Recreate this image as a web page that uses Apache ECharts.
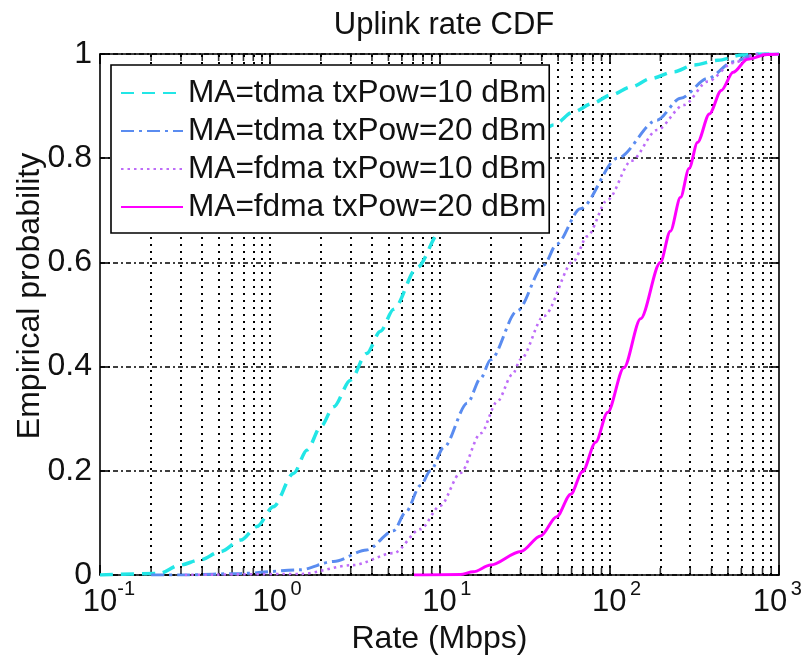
<!DOCTYPE html>
<html>
<head>
<meta charset="utf-8">
<script src="https://cdn.jsdelivr.net/npm/echarts@6/dist/echarts.min.js"></script>
<style>
html,body{margin:0;padding:0;background:#fff;}
#chart{width:802px;height:657px;}
</style>
</head>
<body>
<div id="chart"></div>
<script>
// ---------- data ----------
const titleText = 'Uplink rate CDF';
const xAxisName = 'Rate (Mbps)';
const yAxisName = 'Empirical probability';

const seriesNames = [
  'MA=tdma txPow=10 dBm',
  'MA=tdma txPow=20 dBm',
  'MA=fdma txPow=10 dBm',
  'MA=fdma txPow=20 dBm'
];

// MA=tdma txPow=10 dBm
const tdma10Rate = [0.1, 0.224, 0.295, 0.389, 0.513, 0.676, 0.841, 1.05, 1.38, 1.66, 2.0, 2.38, 2.99, 3.72, 4.49, 5.37, 7.38, 10.1, 12.6, 17.8, 25.1, 35.5, 47.2, 61.7, 79.4, 102, 135, 176, 240, 316, 437, 603, 759, 1000];
const tdma10Prob = [0, 0.003, 0.019, 0.029, 0.045, 0.067, 0.093, 0.131, 0.195, 0.24, 0.285, 0.323, 0.374, 0.425, 0.468, 0.51, 0.59, 0.659, 0.70, 0.755, 0.80, 0.837, 0.864, 0.889, 0.905, 0.921, 0.937, 0.953, 0.966, 0.979, 0.988, 0.998, 1.0, 1.0];

// MA=tdma txPow=20 dBm
const tdma20Rate = [0.2, 0.316, 0.676, 1.51, 2.38, 3.72, 5.37, 6.31, 7.73, 8.85, 10.6, 14.6, 17.5, 20, 28.7, 41.2, 49, 67.6, 112, 191, 263, 380, 537, 741, 1000];
const tdma20Prob = [0, 0.0, 0.003, 0.01, 0.026, 0.048, 0.085, 0.12, 0.172, 0.2, 0.245, 0.33, 0.378, 0.413, 0.507, 0.595, 0.635, 0.703, 0.8, 0.873, 0.915, 0.953, 0.985, 1.0, 1.0];

// MA=fdma txPow=10 dBm
const fdma10Rate = [0.316, 1.51, 3.09, 5.37, 7.73, 10.1, 13.3, 17.5, 21.9, 26.9, 30.1, 41.2, 61.7, 74.1, 97.7, 135, 191, 275, 380, 537, 741, 1000];
const fdma10Prob = [0, 0.002, 0.019, 0.042, 0.088, 0.133, 0.196, 0.272, 0.333, 0.385, 0.414, 0.497, 0.603, 0.65, 0.72, 0.795, 0.854, 0.902, 0.947, 0.983, 1.0, 1.0];

// MA=fdma txPow=20 dBm
const fdma20Rate = [7.08, 13.3, 15.8, 20, 30.1, 39.4, 49, 59.3, 69.5, 83.2, 97.7, 122, 153, 200, 229, 263, 295, 331, 389, 457, 537, 653, 851, 1000];
const fdma20Prob = [0, 0.001, 0.006, 0.019, 0.045, 0.075, 0.112, 0.155, 0.198, 0.255, 0.312, 0.398, 0.492, 0.6, 0.66, 0.725, 0.78, 0.83, 0.885, 0.93, 0.965, 0.99, 0.999, 1.0];

// axes
const xMin = 0.1, xMax = 1000;
const yMin = 0, yMax = 1, yStep = 0.2;
const xMinorTicks = [0.2,0.3,0.4,0.5,0.6,0.7,0.8,0.9,
                     2,3,4,5,6,7,8,9,
                     20,30,40,50,60,70,80,90,
                     200,300,400,500,600,700,800,900];
const xDecades = [1, 10, 100];

// ---------- styles ----------
const FONT = "'Liberation Sans', Arial, Helvetica, sans-serif";
const colors = ['#22E6E6', '#5A8CF0', '#BE6CF8', '#FF00FF'];
const lineTypes = [[13, 8], [13, 5, 3, 5], [2.5, 4], 'solid'];
const lineWidths = [3.5, 3, 2.6, 3];

const zip = (a, b) => a.map((v, i) => [v, b[i]]);
const rates = [tdma10Rate, tdma20Rate, fdma10Rate, fdma20Rate];
const probs = [tdma10Prob, tdma20Prob, fdma10Prob, fdma20Prob];

const chart = echarts.init(document.getElementById('chart'), null, {renderer: 'canvas'});

const dataSeries = seriesNames.map((name, i) => ({
  name: name,
  type: 'line',
  xAxisIndex: 0,
  yAxisIndex: 0,
  data: zip(rates[i], probs[i]),
  showSymbol: false,
  symbol: 'none',
  smooth: 0.3,
  smoothMonotone: 'x',
  z: 5,
  lineStyle: {color: colors[i], width: lineWidths[i], type: lineTypes[i], cap: 'butt'},
  itemStyle: {color: colors[i]},
  emphasis: {disabled: true},
  animation: false
}));

// helper: minor grid lines (markLine) + minor ticks at bottom & top
const gridHelper = {
  name: '_minorBottom',
  type: 'scatter',
  xAxisIndex: 0, yAxisIndex: 0,
  data: xMinorTicks.map(v => [v, yMin]),
  symbol: 'rect',
  symbolSize: [1.6, 7],
  symbolOffset: [0, -3.5],
  itemStyle: {color: '#000'},
  silent: true,
  z: 3,
  animation: false,
  markLine: {
    silent: true,
    symbol: 'none',
    label: {show: false},
    animation: false,
    lineStyle: {color: '#000', width: 2, type: [2, 5]},
    emphasis: {disabled: true},
    data: xMinorTicks.concat(xDecades).map(v => ({xAxis: v}))
  }
};
const topTicks = {
  name: '_minorTop',
  type: 'scatter',
  xAxisIndex: 0, yAxisIndex: 0,
  data: xMinorTicks.map(v => [v, yMax]),
  symbol: 'rect',
  symbolSize: [1.6, 7],
  symbolOffset: [0, 3.5],
  itemStyle: {color: '#000'},
  silent: true,
  z: 3,
  animation: false
};

const axisLineStyle = {color: '#000', width: 1.6};

const option = {
  backgroundColor: '#fff',
  animation: false,
  title: {
    text: titleText,
    left: 439, top: 5,
    textAlign: 'center',
    textStyle: {fontFamily: FONT, fontSize: 31, fontWeight: 'normal', color: '#111'}
  },
  grid: {left: 100, right: 23, top: 54, bottom: 82, containLabel: false, outerBoundsMode: 'none'},
  legend: {
    data: seriesNames,
    orient: 'vertical',
    left: 111, top: 65,
    itemWidth: 62, itemHeight: 20, itemGap: 6,
    padding: [12, 3, 10, 9],
    backgroundColor: '#fff',
    borderColor: '#000', borderWidth: 1.6, borderRadius: 0,
    itemStyle: {opacity: 0},
    textStyle: {fontFamily: FONT, fontSize: 31.6, color: '#111', lineHeight: 30},
    selectedMode: false,
    z: 10
  },
  xAxis: [{
    type: 'log', logBase: 10, min: xMin, max: xMax,
    position: 'bottom',
    axisLine: {show: true, onZero: false, lineStyle: axisLineStyle},
    axisTick: {show: true, inside: true, length: 10, lineStyle: axisLineStyle},
    splitLine: {show: false},
    axisLabel: {
      margin: -3,
      formatter: v => {
        const e = Math.round(Math.log10(v));
        return (v >= xMax ? '' : '{sp|}') + '{b|10}{s|' + e + '}';
      },
      rich: {
        b: {fontFamily: FONT, fontSize: 31, color: '#111', lineHeight: 46, verticalAlign: 'bottom'},
        s: {fontFamily: FONT, fontSize: 20, color: '#111', width: 18, verticalAlign: 'top', lineHeight: 20, padding: [7, 0, 0, 0]},
        sp: {width: 18}
      }
    },
    name: xAxisName, nameLocation: 'middle', nameGap: 48,
    nameTextStyle: {fontFamily: FONT, fontSize: 32, color: '#111'}
  }, {
    type: 'log', logBase: 10, min: xMin, max: xMax,
    position: 'top',
    axisLine: {show: true, onZero: false, lineStyle: axisLineStyle},
    axisTick: {show: true, inside: true, length: 10, lineStyle: axisLineStyle},
    axisLabel: {show: false},
    splitLine: {show: false}
  }],
  yAxis: [{
    type: 'value', min: yMin, max: yMax, interval: yStep,
    position: 'left',
    axisLine: {show: true, onZero: false, lineStyle: axisLineStyle},
    axisTick: {show: true, inside: true, length: 10, lineStyle: axisLineStyle},
    splitLine: {show: true, lineStyle: {color: '#000', width: 1.6, type: [5, 3, 2, 3]}},
    axisLabel: {
      margin: 8,
      fontFamily: FONT, fontSize: 32, color: '#111',
      formatter: v => String(Math.round(v * 10) / 10)
    }
  }, {
    type: 'value', min: yMin, max: yMax, interval: yStep,
    position: 'right',
    axisLine: {show: true, onZero: false, lineStyle: axisLineStyle},
    axisTick: {show: true, inside: true, length: 10, lineStyle: axisLineStyle},
    axisLabel: {show: false},
    splitLine: {show: false}
  }],
  graphic: [{
    type: 'text',
    x: 30, y: 296,
    rotation: Math.PI / 2,
    style: {
      text: yAxisName,
      font: "32px 'Liberation Sans', Arial, sans-serif",
      fill: '#111',
      textAlign: 'center',
      textVerticalAlign: 'middle'
    },
    silent: true
  }],
  series: [gridHelper, topTicks].concat(dataSeries)
};

chart.setOption(option);
</script>
</body>
</html>
